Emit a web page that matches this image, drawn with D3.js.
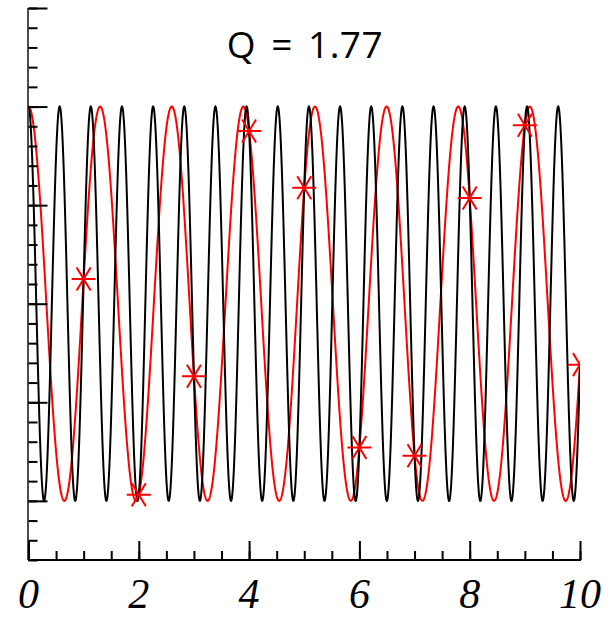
<!DOCTYPE html>
<html>
<head>
<meta charset="utf-8">
<script src="https://cdn.jsdelivr.net/npm/d3@7"></script>
<style>
  html, body { margin: 0; padding: 0; background: #fff; }
  svg { display: block; }
</style>
</head>
<body>
<svg id="chart" width="616" height="617"></svg>
<script>
// ---- data ----
const titleText = "Q = 1.77";
const signalFreq = [1.77];          // black signal frequency (Q)
const aliasFreq = [0.77];           // red alias frequency
const sampleTimes = [1, 2, 3, 4, 5, 6, 7, 8, 9, 10];
const sampleValues = [0.125, -0.969, -0.368, 0.876, 0.588, -0.729, -0.771, 0.536, 0.905, -0.309];
const xTickLabels = ["0", "2", "4", "6", "8", "10"];
const xDomain = [0, 10];
const yDomain = [-1.3, 1.5];

// ---- layout ----
const svg = d3.select("#chart");
const x = d3.scaleLinear().domain(xDomain).range([28.5, 580]);
const y = d3.scaleLinear().domain(yDomain).range([560, 8]);

svg.append("defs").append("clipPath").attr("id", "plotclip")
  .append("rect").attr("x", x(0)).attr("y", 0).attr("width", x(10) - x(0)).attr("height", 617);

const plot = svg.append("g").attr("clip-path", "url(#plotclip)");

const ts = d3.range(0, 10.0001, 0.005);
const line = d3.line().x(d => x(d[0])).y(d => y(d[1]));

// red alias curve
plot.append("path")
  .datum(ts.map(t => [t, Math.cos(2 * Math.PI * aliasFreq[0] * t)]))
  .attr("d", line).attr("fill", "none").attr("stroke", "#ff0000").attr("stroke-width", 2);

// black signal curve
plot.append("path")
  .datum(ts.map(t => [t, Math.cos(2 * Math.PI * signalFreq[0] * t)]))
  .attr("d", line).attr("fill", "none").attr("stroke", "#000").attr("stroke-width", 2);

// red star samples
const starPath = "M-12,0L12,0M-7,-11.5L7,11.5M-7,11.5L7,-11.5";
plot.selectAll("path.star").data(sampleTimes.map((t, i) => [t, sampleValues[i]]))
  .enter().append("path").attr("class", "star")
  .attr("transform", d => `translate(${x(d[0])},${y(d[1])})`)
  .attr("d", starPath).attr("fill", "none").attr("stroke", "#ff0000").attr("stroke-width", 2);

// ---- axes ----
// left axis: ticks pointing inward (right)
const yMinor = d3.range(-13, 16, 1).map(v => v / 10);
const yMajor = [-1, -0.5, 0, 0.5, 1, 1.5];
const yAxisMinor = d3.axisRight(y).tickValues(yMinor).tickSize(9).tickFormat("");
const yAxisMajor = d3.axisRight(y).tickValues(yMajor).tickSize(19).tickFormat("");
const gyMinor = svg.append("g").attr("transform", `translate(${x(0)},0)`).call(yAxisMinor);
const gyMajor = svg.append("g").attr("transform", `translate(${x(0)},0)`).call(yAxisMajor);
[gyMinor, gyMajor].forEach(g => {
  g.select(".domain").remove();
  g.selectAll(".tick line").attr("stroke", "#000").attr("stroke-width", 2);
});
svg.append("line").attr("x1", 28).attr("x2", 28).attr("y1", y(1.5)).attr("y2", y(-1.3))
  .attr("stroke", "#000").attr("stroke-width", 1.4);

// bottom axis: ticks pointing up
const xMinor = d3.range(0, 21, 1).map(v => v / 2);
const xMajor = [0, 2, 4, 6, 8, 10];
const xAxisMinor = d3.axisTop(x).tickValues(xMinor).tickSize(9).tickFormat("");
const xAxisMajor = d3.axisTop(x).tickValues(xMajor).tickSize(19).tickFormat("");
const gxMinor = svg.append("g").attr("transform", `translate(0,560)`).call(xAxisMinor);
const gxMajor = svg.append("g").attr("transform", `translate(0,560)`).call(xAxisMajor);
[gxMinor, gxMajor].forEach(g => {
  g.select(".domain").remove();
  g.selectAll(".tick line").attr("stroke", "#000").attr("stroke-width", 2);
});
svg.append("line").attr("x1", 28).attr("x2", 581).attr("y1", 560).attr("y2", 560)
  .attr("stroke", "#000").attr("stroke-width", 2);

// x tick labels
svg.selectAll("text.xlab").data(xMajor).enter().append("text")
  .attr("class", "xlab")
  .attr("x", d => x(d)).attr("y", 608)
  .attr("text-anchor", "middle")
  .style("font-family", "'Liberation Serif', 'Times New Roman', serif")
  .style("font-style", "italic")
  .style("font-size", "42px")
  .text((d, i) => xTickLabels[i]);

// title
svg.append("text").attr("x", 305).attr("y", 58).attr("text-anchor", "middle")
  .style("font-family", "'Open Sans', 'Liberation Sans', sans-serif")
  .style("font-size", "37px")
  .style("word-spacing", "5px")
  .style("letter-spacing", "0.5px")
  .attr("fill", "#000")
  .text(titleText);
</script>
</body>
</html>
